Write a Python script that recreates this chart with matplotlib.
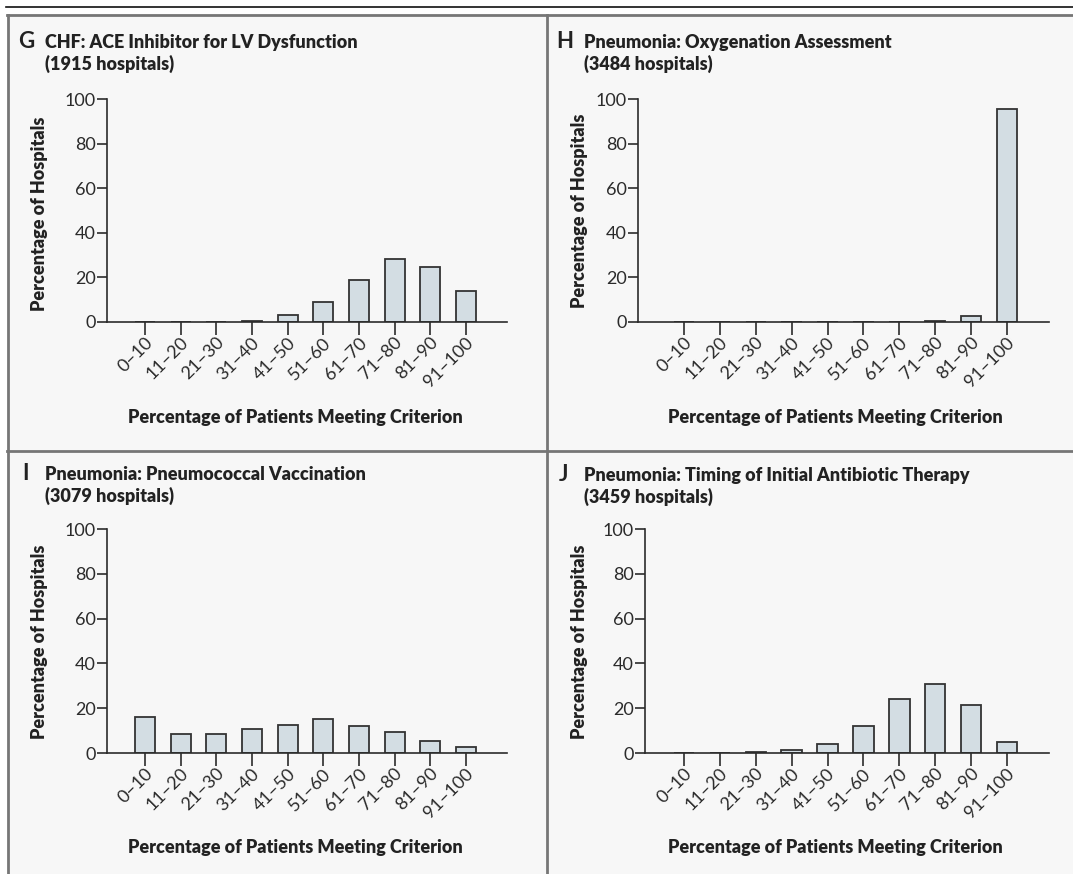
import numpy as np
import matplotlib.pyplot as plt
import matplotlib.transforms as mtransforms
from matplotlib.lines import Line2D

plt.rcParams['font.family'] = ['Lato', 'DejaVu Sans']

bins = ['0\u201310', '11\u201320', '21\u201330', '31\u201340', '41\u201350',
        '51\u201360', '61\u201370', '71\u201380', '81\u201390', '91\u2013100']

ace_lv = [0, 0, 0, 0.6, 3.1, 9.1, 19.0, 28.1, 24.5, 13.8]
oxygenation = [0, 0, 0, 0, 0, 0, 0, 0.6, 2.7, 95.7]
pneumococcal = [16.2, 8.6, 8.6, 10.7, 12.5, 15.3, 12.1, 9.4, 5.2, 2.7]
antibiotic = [0, 0, 0.4, 1.2, 4.0, 12.1, 23.9, 31.0, 21.4, 4.8]

letters = ['G', 'H', 'I', 'J']
titles = ['CHF: ACE Inhibitor for LV Dysfunction',
          'Pneumonia: Oxygenation Assessment',
          'Pneumonia: Pneumococcal Vaccination',
          'Pneumonia: Timing of Initial Antibiotic Therapy']
n_hosp = [1915, 3484, 3079, 3459]

W, H = 1073, 874
fig = plt.figure(figsize=(W/100, H/100), dpi=100)
fig.patch.set_facecolor('white')

def fx(p): return p/W
def fy(p): return 1 - p/H

# panel background and frame lines
fig.patches.append(plt.Rectangle((fx(8), 0), fx(W)-fx(8), fy(15), transform=fig.transFigure,
                                 facecolor='#f7f7f7', edgecolor='none', zorder=-5))
grey = '#767676'
fig.lines.append(Line2D([fx(6), 1], [fy(7), fy(7)], transform=fig.transFigure, color='#111111', lw=1.2))
fig.lines.append(Line2D([fx(7), 1], [fy(15), fy(15)], transform=fig.transFigure, color=grey, lw=2))
fig.lines.append(Line2D([fx(7.5), fx(7.5)], [0, fy(15)], transform=fig.transFigure, color=grey, lw=2))
fig.lines.append(Line2D([fx(547), fx(547)], [0, fy(15)], transform=fig.transFigure, color=grey, lw=2))
fig.lines.append(Line2D([fx(7), 1], [fy(451), fy(451)], transform=fig.transFigure, color=grey, lw=2))

# axes boxes in pixels: left, right, top(y=100), bottom(y=0), first tick, last tick
boxes = [(107, 507, 99, 322, 145, 466),
         (638, 1049, 99, 322, 684, 1007),
         (107, 507, 529, 753, 145, 466),
         (645, 1049, 529, 753, 684, 1007)]
data = [ace_lv, oxygenation, pneumococcal, antibiotic]
text_x = [(18, 45), (556, 584), (22, 45), (559, 584)]
text_y = [(48, 70), (48, 70), (480, 502), (481, 503)]
ylab = [(40, 214), (579, 211), (40, 642), (579, 642)]
xlab = [(295, 417), (835, 417), (295, 847), (835, 847)]

dark = '#2b2b2b'
x = np.arange(len(bins))
shift = mtransforms.ScaledTranslation(5/100, 0, fig.dpi_scale_trans)
for k in range(4):
    l, r, t, b, t0, t1 = boxes[k]
    ax = fig.add_axes([fx(l), fy(b), fx(r) - fx(l), fy(t) - fy(b)])
    ax.patch.set_alpha(0)
    step = (t1 - t0) / 9
    ax.set_xlim(-(t0 - l) / step, 9 + (r - t1) / step)
    ax.set_ylim(0, 100)
    ax.bar(x, data[k], width=0.57, color='#d3dde3', edgecolor='#333333', lw=1.3, zorder=2)
    for s in ['top', 'right']:
        ax.spines[s].set_visible(False)
    for s in ['left', 'bottom']:
        ax.spines[s].set_color(dark)
        ax.spines[s].set_linewidth(1.2)
        ax.spines[s].set_zorder(3)
    ax.set_yticks([0, 20, 40, 60, 80, 100])
    ax.set_xticks(x)
    ax.set_xticklabels(bins, rotation=45, ha='right', va='center', rotation_mode='anchor')
    ax.tick_params(axis='y', length=7, width=1.2, color=dark, labelsize=13, pad=1, labelcolor=dark)
    ax.tick_params(axis='x', length=9, width=1.2, color=dark, labelsize=13, pad=4, labelcolor=dark)
    for lab in ax.get_xticklabels():
        lab.set_transform(lab.get_transform() + shift)

    fig.text(fx(text_x[k][0]), fy(text_y[k][0]), letters[k], fontsize=16, fontweight='bold',
             color='#222222', va='baseline')
    fig.text(fx(text_x[k][1]), fy(text_y[k][0]), titles[k], fontsize=13, fontweight='heavy',
             color='#222222', va='baseline')
    fig.text(fx(text_x[k][1]), fy(text_y[k][1]), '(%d hospitals)' % n_hosp[k], fontsize=13,
             fontweight='heavy', color='#222222', va='baseline')
    fig.text(fx(ylab[k][0]), fy(ylab[k][1]), 'Percentage of Hospitals', rotation=90, fontsize=13,
             fontweight='heavy', color='#222222', ha='center', va='center')
    fig.text(fx(xlab[k][0]), fy(xlab[k][1]), 'Percentage of Patients Meeting Criterion', fontsize=13,
             fontweight='heavy', color='#222222', ha='center', va='center')

plt.savefig('out.png', dpi=100)
plt.close('all')
